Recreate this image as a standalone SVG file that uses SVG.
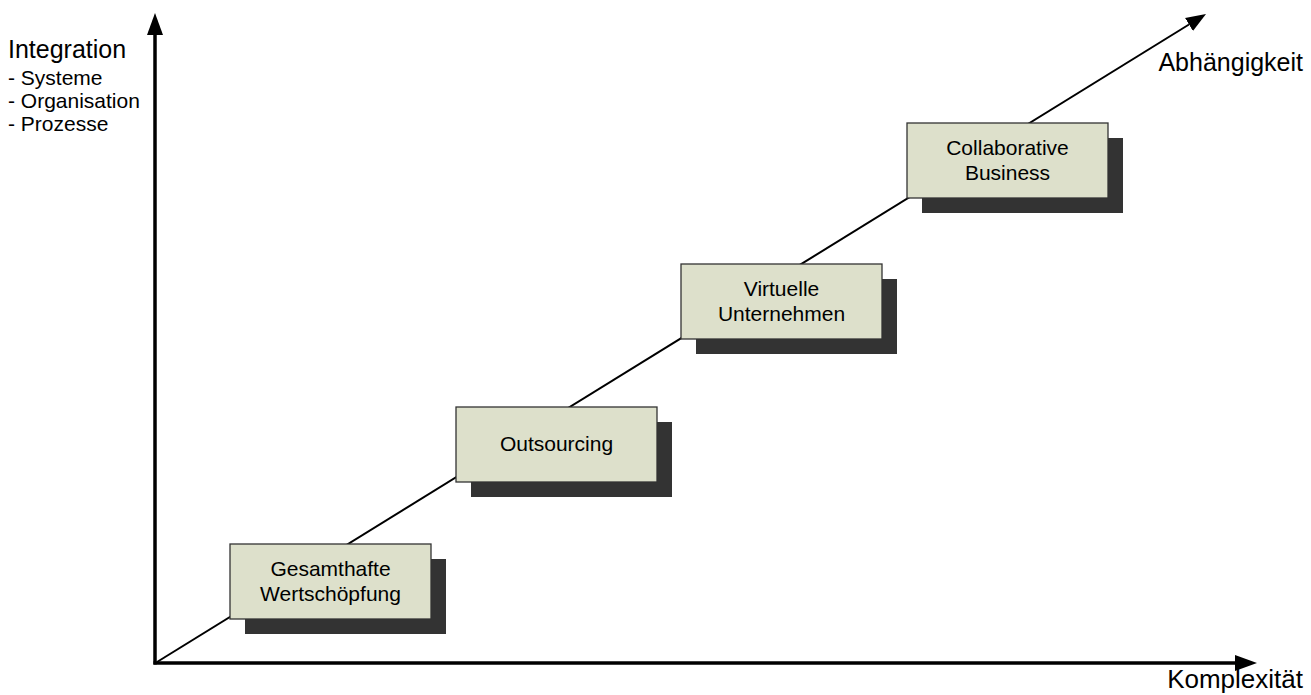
<svg xmlns="http://www.w3.org/2000/svg" width="1311" height="695" viewBox="0 0 1311 695">
<style>
  text { font-family: "Liberation Sans", Arial, sans-serif; fill: #000; }
  .ax { font-size: 25px; }
  .axk { font-size: 26px; }
  .sub { font-size: 21px; }
  .lbl { font-size: 21px; text-anchor: middle; }
  .box { fill: #DDE0CB; stroke: #333; stroke-width: 1.3; }
  .shadow { fill: #333333; }
  .axis { stroke: #000; stroke-width: 3.5; fill: none; }
  .diag { stroke: #000; stroke-width: 2; fill: none; }
</style>
<defs>
  <marker id="headBig" markerUnits="userSpaceOnUse" markerWidth="24" markerHeight="18" viewBox="0 -9 24 18" refX="0" refY="0" orient="auto">
    <path d="M0,-8 L22,0 L0,8 z" fill="#000"/>
  </marker>
  <marker id="headSmall" markerUnits="userSpaceOnUse" markerWidth="22" markerHeight="16" viewBox="0 -8 22 16" refX="0" refY="0" orient="auto">
    <path d="M0,-7.5 L20,0 L0,7.5 z" fill="#000"/>
  </marker>
</defs>
<rect width="1311" height="695" fill="#fff"/>
<g id="connectors">
  <line class="axis" x1="155" y1="664.5" x2="155" y2="35" marker-end="url(#headBig)"/>
  <line class="axis" x1="153.5" y1="663" x2="1235" y2="663" marker-end="url(#headBig)"/>
  <line class="diag" x1="157" y1="662" x2="1189" y2="24.5" marker-end="url(#headSmall)"/>
</g>
<g id="axis-labels">
  <text class="ax" x="8" y="58">Integration</text>
  <text class="sub" x="8" y="85">- Systeme</text>
  <text class="sub" x="8" y="108">- Organisation</text>
  <text class="sub" x="8" y="131">- Prozesse</text>
  <text class="ax" x="1303" y="71" text-anchor="end">Abhängigkeit</text>
  <text class="axk" x="1303" y="688" text-anchor="end">Komplexität</text>
</g>
<g id="node-gesamthafte">
  <rect class="shadow" x="245" y="559" width="201" height="75"/>
  <rect class="box" x="230" y="544" width="201" height="75"/>
  <text class="lbl" x="330.5" y="576">Gesamthafte</text>
  <text class="lbl" x="330.5" y="601">Wertschöpfung</text>
</g>
<g id="node-outsourcing">
  <rect class="shadow" x="471" y="422" width="201" height="75"/>
  <rect class="box" x="456" y="407" width="201" height="75"/>
  <text class="lbl" x="556.5" y="451">Outsourcing</text>
</g>
<g id="node-virtuelle">
  <rect class="shadow" x="696" y="279" width="201" height="75"/>
  <rect class="box" x="681" y="264" width="201" height="75"/>
  <text class="lbl" x="781.5" y="296">Virtuelle</text>
  <text class="lbl" x="781.5" y="321">Unternehmen</text>
</g>
<g id="node-collaborative">
  <rect class="shadow" x="922" y="138" width="201" height="75"/>
  <rect class="box" x="907" y="123" width="201" height="75"/>
  <text class="lbl" x="1007.5" y="155">Collaborative</text>
  <text class="lbl" x="1007.5" y="180">Business</text>
</g>
</svg>
